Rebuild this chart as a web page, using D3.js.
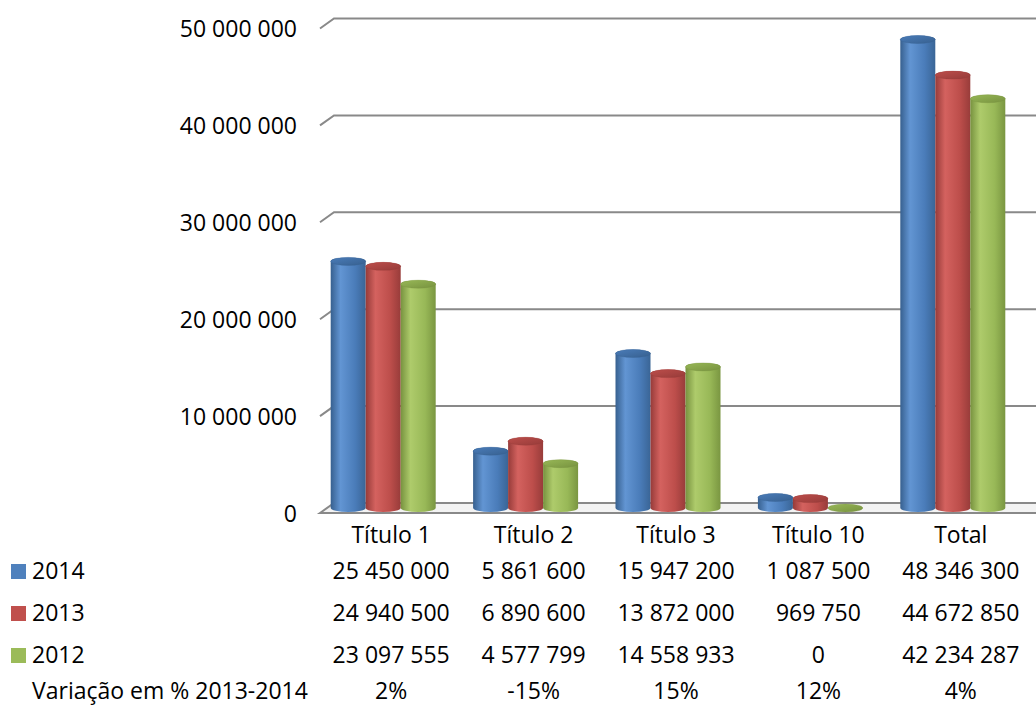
<!DOCTYPE html>
<html>
<head>
<meta charset="utf-8">
<script src="https://cdn.jsdelivr.net/npm/d3@7"></script>
<style>
	body { margin: 0; background: #fff; }
	text { font-family: "Open Sans", sans-serif; font-size: 23px; fill: #000; }
</style>
</head>
<body>
<svg id="chart" width="1036" height="706"></svg>
<script>
//DATA
var categories = ["Título 1", "Título 2", "Título 3", "Título 10", "Total"];
var series = ["2014", "2013", "2012"];
var values2014 = [25450000, 5861600, 15947200, 1087500, 48346300];
var values2013 = [24940500, 6890600, 13872000, 969750, 44672850];
var values2012 = [23097555, 4577799, 14558933, 0, 42234287];
var variacao = [2, -15, 15, 12, 4];
var yTicks = [0, 10000000, 20000000, 30000000, 40000000, 50000000];

(function () {
	//VARIABLE DECLARATION
	var svg, x, xInner, y, fmt, depth, colors, shades, seriesValues;
	//VARIABLE INSTANTIATION
	svg = d3.select("#chart");
	seriesValues = [values2014, values2013, values2012];
	colors = ["#4F81BD", "#C0504D", "#9BBB59"];
	// dark edge, highlight, base, right edge
	shades = [
		["#37608f", "#6295d3", "#4a7cb9", "#3a6596"],
		["#963b39", "#d4625f", "#bd4e4b", "#983c3a"],
		["#77923f", "#aecb6b", "#98b857", "#7a9641"]
	];
	depth = { dx: 14, dy: -10 };
	x = d3.scaleBand().domain(categories).range([320, 1032]);
	xInner = d3.scaleBand().domain(series).range([-52.5, 52.5]);
	y = d3.scaleLinear().domain([0, 50000000]).range([513, 28.5]);
	fmt = d3.formatLocale({ decimal: ",", thousands: " ", grouping: [3], currency: ["", ""] }).format(",d");

	makeGradients();
	drawGrid();
	drawFloor();
	drawYAxis();
	drawBars();
	drawTable();

	function makeGradients() {
		var defs = svg.append("defs");
		shades.forEach(function (s, i) {
			var g = defs.append("linearGradient").attr("id", "grad" + i)
				.attr("x1", 0).attr("x2", 1).attr("y1", 0).attr("y2", 0);
			g.append("stop").attr("offset", 0).attr("stop-color", s[0]);
			g.append("stop").attr("offset", 0.28).attr("stop-color", s[1]);
			g.append("stop").attr("offset", 0.7).attr("stop-color", s[2]);
			g.append("stop").attr("offset", 1).attr("stop-color", s[3]);
			var t = defs.append("linearGradient").attr("id", "top" + i)
				.attr("x1", 0).attr("x2", 1).attr("y1", 0).attr("y2", 1);
			t.append("stop").attr("offset", 0).attr("stop-color", s[2]);
			t.append("stop").attr("offset", 1).attr("stop-color", s[0]);
		})
	}
	function drawGrid() {
		var x0 = x.range()[0];
		svg.append("g").attr("class", "grid").selectAll("path")
			.data(yTicks.slice(1)).enter().append("path")
			.attr("d", function (d) {
				return "M" + x0 + "," + y(d) + "L" + (x0 + depth.dx) + "," + (y(d) + depth.dy) + "L1036," + (y(d) + depth.dy);
			})
			.attr("fill", "none")
			.attr("stroke", "#898989")
			.attr("stroke-width", 2)
	}
	function drawFloor() {
		var x0 = x.range()[0], y0 = y(0);
		svg.append("path")
			.attr("d", "M" + x0 + "," + y0 + "L" + (x0 + depth.dx) + "," + (y0 + depth.dy) + "L1050," + (y0 + depth.dy) + "L1040," + y0 + "Z")
			.attr("fill", "#f3f3f3")
			.attr("stroke", "#898989")
			.attr("stroke-width", 2)
	}
	function drawYAxis() {
		var axis = d3.axisLeft(y).tickValues(yTicks).tickFormat(fmt).tickSize(0).tickPadding(0);
		var g = svg.append("g").attr("transform", "translate(297,1)").call(axis);
		g.select(".domain").remove();
		g.selectAll("text").attr("font-family", null).attr("font-size", null);
	}
	function cylinder(cx, yt, yb, rx, ry) {
		return "M" + (cx - rx) + "," + yb + "L" + (cx - rx) + "," + yt +
			"A" + rx + "," + ry + " 0 0 1 " + (cx + rx) + "," + yt +
			"L" + (cx + rx) + "," + yb +
			"A" + rx + "," + ry + " 0 0 1 " + (cx - rx) + "," + yb + "Z";
	}
	function drawBars() {
		var rx = xInner.bandwidth() / 2, ry = 4, shift = -8;
		var barData = [];
		categories.forEach(function (c, ci) {
			series.forEach(function (s, si) {
				barData.push({ cat: c, s: s, si: si, v: seriesValues[si][ci] });
			})
		})
		var g = svg.append("g").attr("class", "bars").selectAll("g")
			.data(barData).enter().append("g");
		function cx(d) { return x(d.cat) + x.bandwidth() / 2 + shift + xInner(d.s) + rx; }
		g.filter(function (d) { return d.v > 0; }).append("path")
			.attr("d", function (d) { return cylinder(cx(d), y(d.v) + depth.dy / 2, y(0) + depth.dy / 2, rx, ry); })
			.attr("fill", function (d) { return "url(#grad" + d.si + ")"; })
		g.append("ellipse")
			.attr("cx", cx)
			.attr("cy", function (d) { return y(d.v) + depth.dy / 2; })
			.attr("rx", rx)
			.attr("ry", ry)
			.attr("fill", function (d) { return "url(#top" + d.si + ")"; })
			.attr("stroke", function (d) { return shades[d.si][0]; })
			.attr("stroke-opacity", 0.4)
			.attr("stroke-width", 0.8)
	}
	function drawTable() {
		var rowY = [579, 621, 663, 699];
		var cxs = function (c) { return x(c) + x.bandwidth() / 2; };
		svg.append("g").selectAll("text")
			.data(categories).enter().append("text")
			.attr("x", cxs).attr("y", 543)
			.attr("text-anchor", "middle")
			.text(function (d) { return d; })

		series.forEach(function (s, si) {
			svg.append("rect").attr("x", 11).attr("y", rowY[si] - 15)
				.attr("width", 15).attr("height", 15).attr("fill", colors[si]);
			svg.append("text").attr("x", 32).attr("y", rowY[si]).text(s);
			svg.append("g").selectAll("text")
				.data(seriesValues[si]).enter().append("text")
				.attr("x", function (d, i) { return cxs(categories[i]); })
				.attr("y", rowY[si])
				.attr("text-anchor", "middle")
				.text(function (d) { return fmt(d); })
		})
		svg.append("text").attr("x", 32).attr("y", rowY[3]).text("Variação em % 2013-2014");
		svg.append("g").selectAll("text")
			.data(variacao).enter().append("text")
			.attr("x", function (d, i) { return cxs(categories[i]); })
			.attr("y", rowY[3])
			.attr("text-anchor", "middle")
			.text(function (d) { return d + "%"; })
	}
})();
</script>
</body>
</html>
